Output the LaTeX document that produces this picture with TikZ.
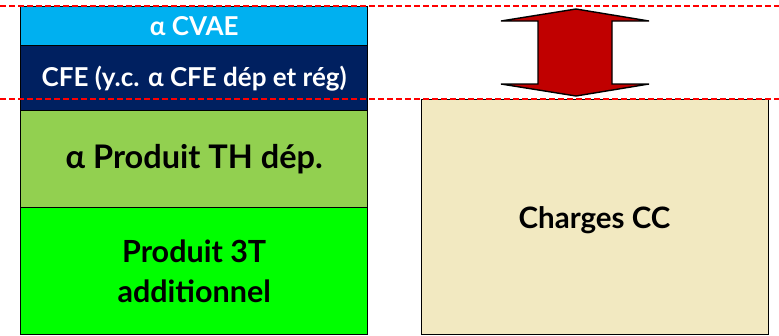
\documentclass[tikz,border=0pt]{standalone}
\usepackage{fontspec}
\setmainfont{Lato}
\definecolor{cvae}{HTML}{00B0F0}
\definecolor{cfe}{HTML}{002060}
\definecolor{th}{HTML}{92D050}
\definecolor{tt}{HTML}{00FF00}
\definecolor{charges}{HTML}{F2E9C1}
\definecolor{arrowred}{HTML}{C00000}
\begin{document}
\begin{tikzpicture}[x=1pt,y=-1pt,
  blk/.style={draw=black,line width=1.4pt,anchor=north west,inner sep=0pt,
    minimum width=347pt,align=center},
  guide/.style={draw=red,line width=1.6pt,dash pattern=on 6pt off 3pt}]
\useasboundingbox (0,0) rectangle (779,335);
\node[blk,fill=cvae,minimum height=39pt,text=white,font=\bfseries\fontsize{26}{30}\selectfont] (cvae) at (20,6) {α CVAE};
\node[blk,fill=cfe,minimum height=65pt,text=white,font=\bfseries\fontsize{26}{30}\selectfont] (cfe) at (20,45) {CFE (y.c. α CFE dép et rég)};
\node[blk,fill=th,minimum height=97pt,font=\bfseries\fontsize{32.5}{36}\selectfont] (th) at (20,110) {α Produit TH dép.};
\node[blk,fill=tt,minimum height=127pt,font=\bfseries\fontsize{30.5}{40}\selectfont] (tt) at (20,207) {Produit 3T\\additionnel};
\node[blk,fill=charges,minimum height=235pt] (cc) at (421,99) {};
\node[font=\bfseries\fontsize{29.5}{32}\selectfont] (cclabel) at (594.5,220) {Charges CC};
\draw[fill=arrowred,line width=1.4pt,line join=miter]
  (501,21) -- (576,9) -- (649,21) -- (612,21) -- (612,84) -- (649,84)
  -- (576,96) -- (501,84) -- (538,84) -- (538,21) -- cycle;
\coordinate (t1) at (0,6);
\coordinate (t2) at (779,6);
\coordinate (b1) at (0,99);
\coordinate (b2) at (779,99);
\draw[guide] (t1) -- (t2);
\draw[guide] (b1) -- (b2);
\end{tikzpicture}
\end{document}
